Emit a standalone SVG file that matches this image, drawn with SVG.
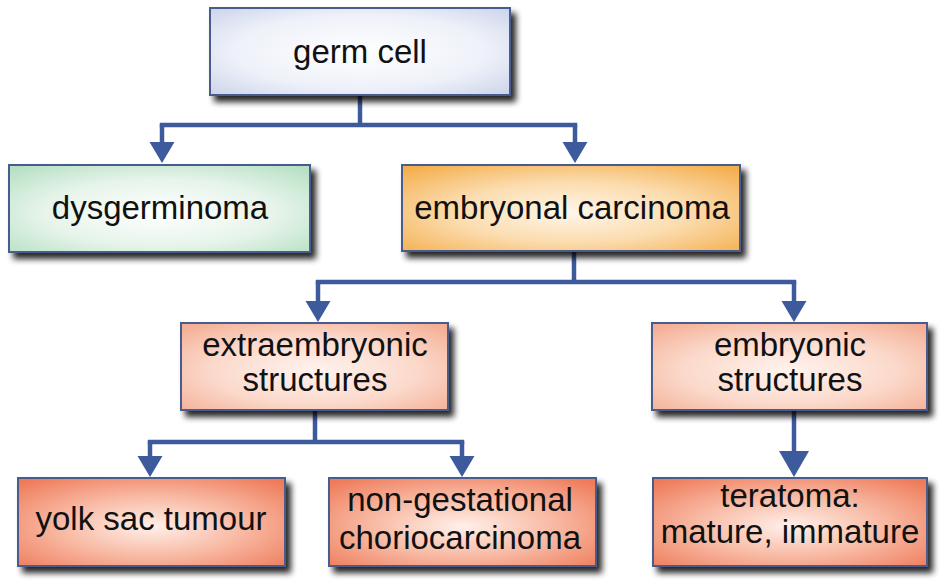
<svg xmlns="http://www.w3.org/2000/svg" width="946" height="588" viewBox="0 0 946 588">
<defs>
<filter id="sh" x="-10%" y="-20%" width="130%" height="150%">
<feGaussianBlur in="SourceAlpha" stdDeviation="3"/>
<feOffset dx="5" dy="6" result="b"/>
<feComponentTransfer><feFuncA type="linear" slope="0.85"/></feComponentTransfer>
<feMerge><feMergeNode/><feMergeNode in="SourceGraphic"/></feMerge>
</filter>
<radialGradient id="gBlue" cx="50%" cy="50%" r="70%">
<stop offset="0" stop-color="#ffffff"/><stop offset="0.6" stop-color="#eef1f9"/><stop offset="1" stop-color="#ccd4ea"/>
</radialGradient>
<radialGradient id="gGreen" cx="50%" cy="55%" r="70%">
<stop offset="0" stop-color="#ffffff"/><stop offset="0.55" stop-color="#e6f4ea"/><stop offset="1" stop-color="#b6e0c4"/>
</radialGradient>
<radialGradient id="gOrange" cx="50%" cy="55%" r="70%">
<stop offset="0" stop-color="#fff6ea"/><stop offset="0.5" stop-color="#fbdcae"/><stop offset="1" stop-color="#f4ae4c"/>
</radialGradient>
<radialGradient id="gPeach" cx="50%" cy="55%" r="70%">
<stop offset="0" stop-color="#fff3ee"/><stop offset="0.55" stop-color="#fbd9cb"/><stop offset="1" stop-color="#f4ae94"/>
</radialGradient>
<radialGradient id="gRed" cx="50%" cy="55%" r="70%">
<stop offset="0" stop-color="#fff0ea"/><stop offset="0.5" stop-color="#f8b8a2"/><stop offset="1" stop-color="#ee7a58"/>
</radialGradient>
<path id="ah" d="M-12.5,0 L12.5,0 L0,21 Z" fill="#3c5a9c"/>
<path id="ahBig" d="M-15,0 L15,0 L0,26 Z" fill="#3c5a9c"/>
</defs>
<style>
.box{stroke:#4a5c8e;stroke-width:2;filter:url(#sh)}
.t{font-family:"Liberation Sans",Arial,sans-serif;font-size:33px;fill:#111;text-anchor:middle}
.c{fill:none;stroke:#3c5a9c;stroke-width:4.5;stroke-linejoin:miter}
</style>
<rect width="946" height="588" fill="#ffffff"/>
<g id="connectors">
<path class="c" d="M360,95 V125"/>
<path class="c" d="M162,125 H575" stroke-linecap="square"/>
<path class="c" d="M162,125 V145"/>
<path class="c" d="M575,125 V145"/>
<use href="#ah" x="162" y="142"/>
<use href="#ah" x="575" y="142"/>
<path class="c" d="M574,252 V282"/>
<path class="c" d="M318,282 H794" stroke-linecap="square"/>
<path class="c" d="M318,282 V303"/>
<path class="c" d="M794,282 V303"/>
<use href="#ah" x="318" y="301"/>
<use href="#ah" x="794" y="301"/>
<path class="c" d="M315,410 V442"/>
<path class="c" d="M150,442 H462" stroke-linecap="square"/>
<path class="c" d="M150,442 V460"/>
<path class="c" d="M462,442 V460"/>
<use href="#ah" x="150" y="456"/>
<use href="#ah" x="462" y="456"/>
<path class="c" d="M794,410 V455"/>
<use href="#ahBig" x="794" y="451"/>
</g>
<g id="germ-cell">
<rect class="box" x="210" y="8" width="300" height="87" fill="url(#gBlue)"/>
<text class="t" x="360" y="63">germ cell</text>
</g>
<g id="dysgerminoma">
<rect class="box" x="9" y="165" width="301" height="87" fill="url(#gGreen)"/>
<text class="t" x="160" y="219">dysgerminoma</text>
</g>
<g id="embryonal-carcinoma">
<rect class="box" x="402" y="165" width="338" height="86" fill="url(#gOrange)"/>
<text class="t" x="572" y="219">embryonal carcinoma</text>
</g>
<g id="extraembryonic">
<rect class="box" x="181" y="323" width="267" height="87" fill="url(#gPeach)"/>
<text class="t" x="315" y="356">extraembryonic</text>
<text class="t" x="315" y="391">structures</text>
</g>
<g id="embryonic">
<rect class="box" x="652" y="323" width="275" height="87" fill="url(#gPeach)"/>
<text class="t" x="790" y="356">embryonic</text>
<text class="t" x="790" y="391">structures</text>
</g>
<g id="yolk-sac">
<rect class="box" x="18" y="478" width="267" height="88" fill="url(#gRed)"/>
<text class="t" x="151" y="530">yolk sac tumour</text>
</g>
<g id="choriocarcinoma">
<rect class="box" x="329" y="478" width="267" height="88" fill="url(#gRed)"/>
<text class="t" x="460" y="511">non-gestational</text>
<text class="t" x="460" y="549">choriocarcinoma</text>
</g>
<g id="teratoma">
<rect class="box" x="653" y="478" width="274" height="88" fill="url(#gRed)"/>
<text class="t" x="790" y="507">teratoma:</text>
<text class="t" x="790" y="543">mature, immature</text>
</g>
</svg>
